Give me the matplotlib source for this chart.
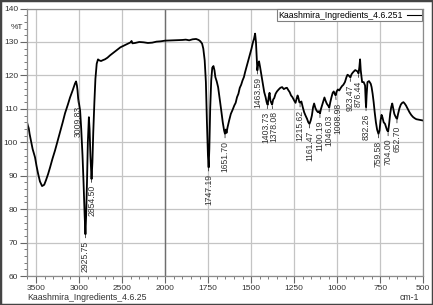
import numpy as np
import matplotlib
matplotlib.use("Agg")
import matplotlib.pyplot as plt
from matplotlib.ticker import FixedLocator
from matplotlib.patches import Rectangle

plt.rcParams['font.family'] = ['Liberation Sans', 'DejaVu Sans']

# spectrum (cm-1, %T)
wavenumber = [3605, 3595, 3585, 3575, 3560, 3540, 3512, 3495, 3477, 3455,
              3430, 3405, 3384, 3360, 3337, 3310, 3279, 3250, 3221, 3190,
              3163, 3130, 3105, 3075, 3047, 3035, 3025, 3018, 3010, 3000,
              2988, 2975, 2960, 2948, 2935, 2926, 2918, 2908, 2898, 2886,
              2878, 2868, 2855, 2845, 2835, 2822, 2810, 2795, 2780, 2765,
              2745, 2720, 2700, 2670, 2640, 2600, 2560, 2520, 2480, 2440,
              2400, 2390, 2380, 2350, 2300, 2250, 2200, 2150, 2100, 2050,
              2000, 1950, 1900, 1880, 1860, 1840, 1820, 1805, 1795, 1785,
              1778, 1770, 1763, 1757, 1751, 1747, 1743, 1738, 1732, 1726,
              1719, 1713, 1708, 1700, 1692, 1684, 1675, 1665, 1657, 1652,
              1647, 1643, 1637, 1628, 1618, 1607, 1598, 1590, 1582, 1574,
              1566, 1558, 1550, 1542, 1535, 1527, 1520, 1512, 1505, 1498,
              1490, 1483, 1477, 1472, 1468, 1464, 1459, 1454, 1448, 1440,
              1432, 1424, 1416, 1410, 1404, 1398, 1393, 1388, 1383, 1378,
              1372, 1366, 1358, 1350, 1340, 1330, 1320, 1310, 1300, 1292,
              1284, 1276, 1268, 1260, 1250, 1242, 1236, 1230, 1225, 1220,
              1215, 1208, 1200, 1192, 1184, 1175, 1168, 1161, 1154, 1147,
              1140, 1134, 1127, 1120, 1112, 1106, 1100, 1094, 1087, 1080,
              1074, 1068, 1060, 1053, 1046, 1040, 1033, 1026, 1020, 1014,
              1009, 1003, 996, 988, 980, 972, 964, 955, 946, 940,
              934, 928, 923, 917, 910, 903, 895, 888, 882, 876,
              871, 867, 863, 855, 846, 838, 834, 832, 829, 824,
              815, 805, 800, 794, 788, 782, 775, 768, 760, 754,
              748, 742, 737, 730, 722, 716, 710, 704, 698, 692,
              686, 680, 674, 668, 662, 656, 652, 646, 638, 630,
              622, 615, 608, 600, 590, 580, 570, 560, 550, 540,
              530, 520, 510, 500]
transmittance = [106.0, 105.0, 104.2, 102.5, 100.5, 98.0, 95.5, 93.0, 90.7, 88.3,
                 86.9, 87.3, 88.7, 90.5, 92.5, 95.0, 97.6, 100.3, 103.0, 106.0,
                 108.7, 111.3, 113.4, 115.5, 117.6, 118.2, 117.0, 115.5, 113.0, 111.5,
                 109.5, 104.0, 96.0, 88.0, 78.0, 72.5, 78.0, 88.0, 100.0, 107.5,
                 104.0, 96.0, 89.0, 94.0, 103.0, 112.0, 119.0, 123.5, 124.8, 124.5,
                 124.3, 124.6, 124.8, 125.3, 126.0, 126.8, 127.6, 128.4, 128.9, 129.4,
                 129.9, 130.3, 129.6, 129.7, 130.0, 129.9, 129.7, 129.8, 130.1, 130.2,
                 130.4, 130.5, 130.6, 130.7, 130.5, 130.8, 130.9, 130.6, 130.2, 129.5,
                 128.0, 124.5, 118.0, 106.0, 96.0, 92.5, 98.0, 110.0, 118.5, 122.3,
                 122.8, 121.5, 119.5, 118.2, 116.5, 113.5, 110.0, 106.0, 103.5, 102.5,
                 103.8, 102.8, 104.5, 106.5, 108.5, 109.8, 111.0, 111.8, 113.5, 114.5,
                 116.3, 117.2, 118.5, 119.5, 121.0, 122.5, 123.8, 125.2, 126.5, 128.0,
                 129.8, 131.0, 132.5, 130.0, 126.0, 121.5, 123.5, 124.2, 122.5, 120.0,
                 117.5, 115.0, 113.5, 112.0, 111.2, 113.5, 114.8, 112.5, 111.8, 111.3,
                 112.8, 113.2, 114.5, 115.2, 115.8, 116.3, 116.5, 115.9, 116.2, 116.3,
                 115.6, 115.0, 114.0, 113.5, 112.5, 111.8, 113.0, 114.0, 113.2, 112.0,
                 111.8, 112.2, 110.5, 109.0, 108.0, 107.0, 106.0, 105.5, 106.5, 108.0,
                 110.5, 111.6, 110.3, 109.5, 109.0, 109.3, 108.6, 110.0, 111.2, 112.5,
                 113.4, 112.5, 111.5, 111.0, 110.4, 112.0, 113.5, 114.8, 115.2, 114.5,
                 114.0, 115.2, 115.8, 115.5, 116.2, 116.8, 117.2, 118.0, 119.5, 120.2,
                 120.0, 119.7, 119.4, 120.3, 120.8, 121.2, 121.6, 121.4, 121.2, 120.6,
                 122.5, 124.8, 121.5, 118.0, 118.0, 117.0, 112.0, 110.5, 114.0, 118.0,
                 118.3, 117.5, 116.5, 114.5, 112.0, 109.0, 106.0, 103.8, 102.5, 103.5,
                 106.5, 108.2, 107.5, 106.0, 105.5, 104.5, 103.6, 103.2, 105.5, 108.5,
                 110.5, 111.6, 110.0, 108.5, 107.8, 107.2, 107.0, 108.5, 110.2, 111.3,
                 111.8, 112.0, 111.6, 111.0, 110.0, 109.0, 108.2, 107.6, 107.2, 106.9,
                 106.8, 106.7, 106.6, 106.5]

peak_labels = [3009.83, 2925.75, 2854.50, 1747.19, 1651.70, 1463.59, 1403.73,
               1378.08, 1215.62, 1161.47, 1100.19, 1046.03, 1008.98, 923.47,
               876.44, 832.26, 759.58, 704.00, 652.70]
# small sideways nudges (points) so crowded labels sit like the reference
label_shift = {1403.73: -1.5, 1378.08: 1.5, 1046.03: -0.5, 1008.98: 1.5}

major_ticks = [3500, 3000, 2500, 2000, 1750, 1500, 1250, 1000, 750, 500]
series_name = "Kaashmira_Ingredients_4.6.251"
file_name = "Kaashmira_Ingredients_4.6.25"


# x axis is stretched 2x below 2000 cm-1
def fwd(x):
    x = np.asarray(x, dtype=float)
    return np.where(x >= 2000, x, 2 * x - 2000)


def inv(u):
    u = np.asarray(u, dtype=float)
    return np.where(u >= 2000, u, (u + 2000) / 2)


fig = plt.figure(figsize=(4.33, 3.05), dpi=100)
ax = fig.add_axes([0.0624, 0.095, 0.915, 0.877])
ax.set_xscale('function', functions=(fwd, inv))

ax.plot(wavenumber, transmittance, color='black', lw=1.3, label=series_name)
ax.set_xlim(3605, 500)
ax.set_ylim(60, 140)

ax.xaxis.set_major_locator(FixedLocator(major_ticks))
minor = [w for w in list(range(3600, 2000, -100)) + list(range(1950, 500, -50))
         if w not in major_ticks]
ax.xaxis.set_minor_locator(FixedLocator(minor))
ax.yaxis.set_major_locator(FixedLocator(range(60, 141, 10)))
ax.yaxis.set_minor_locator(FixedLocator(range(60, 141, 2)))

ax.grid(True, which='major', color='#c4c4c4', lw=0.9)
ax.axvline(2000, color='#6e6e6e', lw=1.0, zorder=1)
ax.set_axisbelow(True)

for sp in ax.spines.values():
    sp.set_color('#8c8c8c')
    sp.set_linewidth(0.9)
ax.tick_params(which='major', length=5, width=0.8, color='#666666',
               labelsize=6, labelcolor='#333333', pad=1.5)
ax.tick_params(which='minor', length=2.5, width=0.6, color='#666666')

for w in peak_labels:
    t = np.interp(w, wavenumber[::-1], transmittance[::-1])
    ax.annotate(f"{w:.2f}", xy=(w, t), xytext=(label_shift.get(w, 0), -5),
                textcoords='offset points',
                rotation=90, ha='center', va='top', fontsize=6.2, color='#333333',
                arrowprops=dict(arrowstyle='-', lw=0.6, color='#333333',
                                shrinkA=0, shrinkB=1))

leg = ax.legend(loc='upper right', markerfirst=False, fancybox=False,
                edgecolor='#808080', framealpha=1, fontsize=6.3,
                handlelength=1.6, borderpad=0.15, borderaxespad=0.1,
                handletextpad=0.5)
leg.get_frame().set_linewidth(0.8)
for line in leg.get_lines():
    line.set_linewidth(0.8)

fig.text(0.024, 0.905, "%T", fontsize=6, color='#333333')
fig.text(0.062, 0.018, file_name, fontsize=6.3, color='#333333')
fig.text(0.968, 0.018, "cm-1", fontsize=6.3, color='#333333', ha='right')

fig.patches.append(Rectangle((0, 0), 1, 1, transform=fig.transFigure, fill=False,
                             edgecolor='#444444', lw=2.5))

fig.savefig("out.png", dpi=100)
